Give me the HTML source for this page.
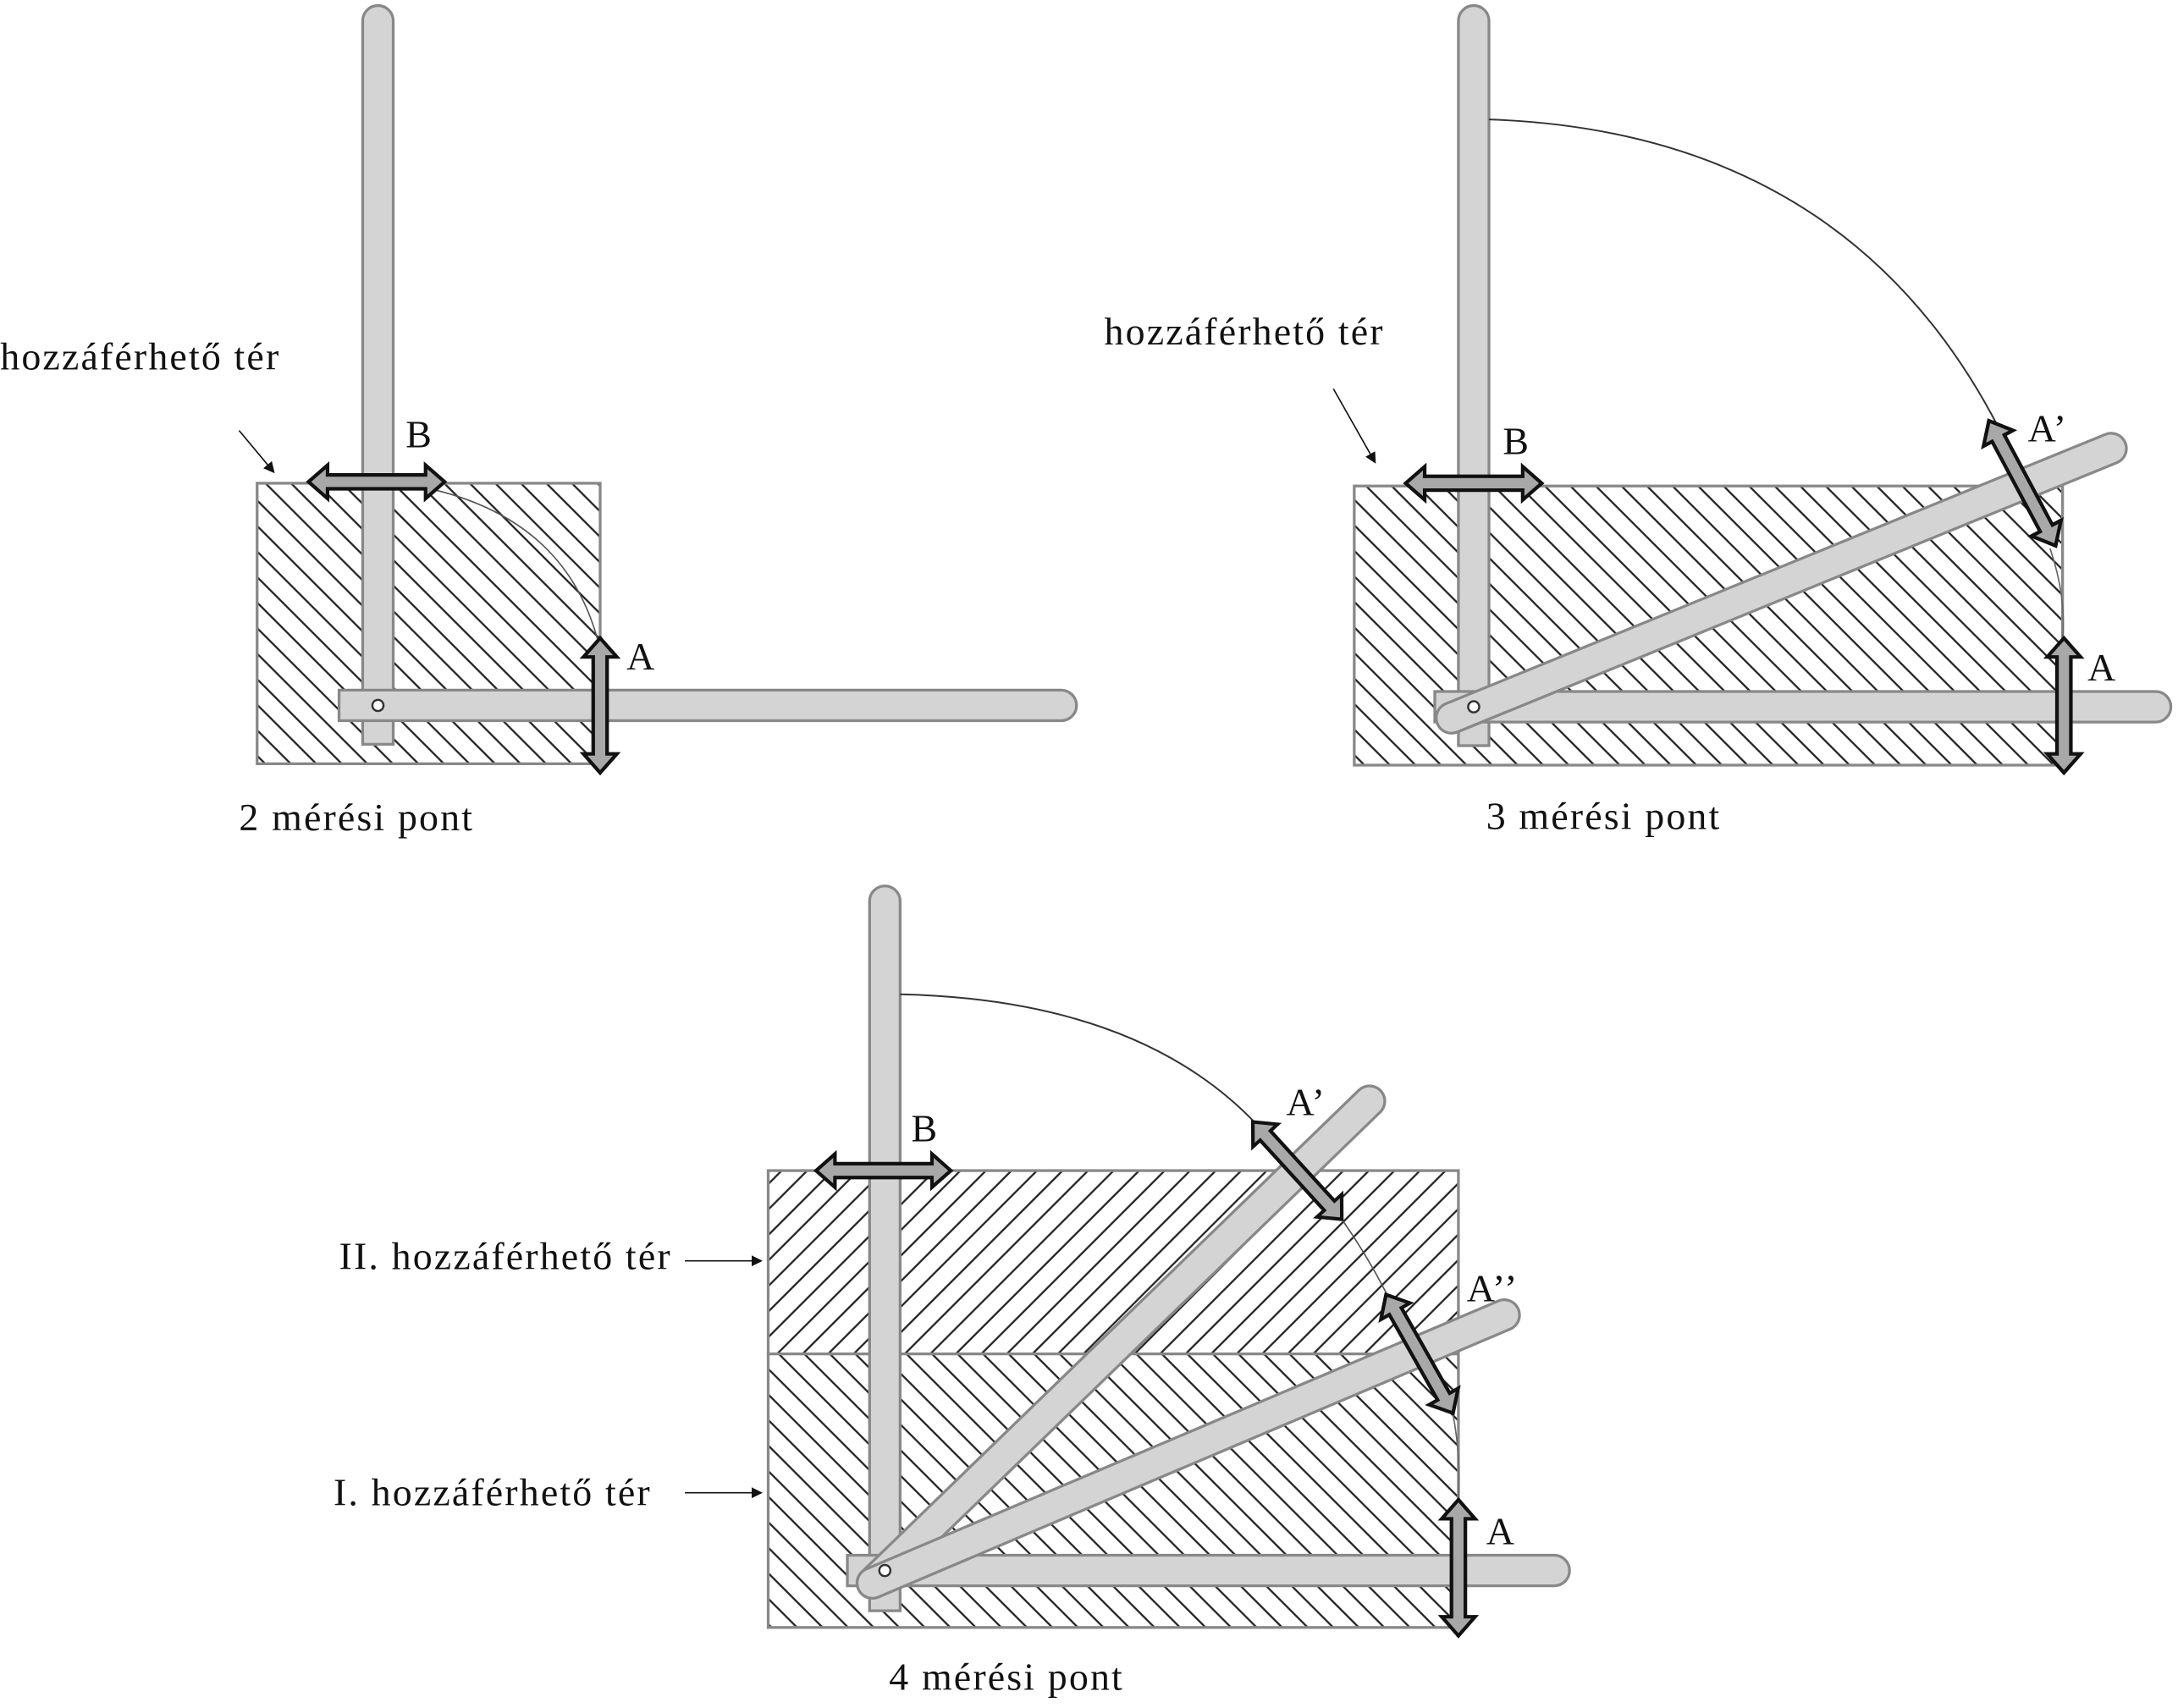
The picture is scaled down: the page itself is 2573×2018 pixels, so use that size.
<!DOCTYPE html>
<html><head><meta charset="utf-8"><style>
html,body{margin:0;padding:0;background:#fff;}
svg{display:block;}
text{font-family:"Liberation Serif",serif;font-size:28px;letter-spacing:1.3px;fill:#111;}
</style></head><body>
<svg width="2573" height="2018" viewBox="0 0 1568 1230" xmlns="http://www.w3.org/2000/svg">
<defs>
<pattern id="hd" patternUnits="userSpaceOnUse" width="13" height="13" patternTransform="rotate(-45)">
<rect width="13" height="13" fill="#fff"/><line x1="6" y1="0" x2="6" y2="13" stroke="#222" stroke-width="1.4"/></pattern>
<pattern id="hu" patternUnits="userSpaceOnUse" width="13" height="13" patternTransform="rotate(45)">
<rect width="13" height="13" fill="#fff"/><line x1="6" y1="0" x2="6" y2="13" stroke="#222" stroke-width="1.4"/></pattern>
<g id="arr"><polygon points="-50,0 -36,-12 -36,-5 36,-5 36,-12 50,0 36,12 36,5 -36,5 -36,12" fill="#a8a8a8" stroke="#111" stroke-width="2.6" stroke-linejoin="miter"/></g>
<marker id="ah" markerWidth="8" markerHeight="8" refX="7" refY="4" orient="auto" markerUnits="userSpaceOnUse"><path d="M0,0 L8,4 L0,8 z" fill="#111"/></marker>
</defs>

<!-- Diagram 1 -->
<rect x="185" y="348" width="247" height="202" fill="url(#hd)" stroke="#888" stroke-width="2"/>
<path d="M261,536 V15 A11,11 0 0 1 283,15 V536 Z" fill="#d4d4d4" stroke="#888" stroke-width="2"/>
<path d="M244,497 H764 A11,11 0 0 1 764,519 H244 Z" fill="#d4d4d4" stroke="#888" stroke-width="2"/>
<circle cx="272" cy="508" r="4" fill="#fff" stroke="#333" stroke-width="1.5"/>
<path d="M300,350 Q405,370 430,460" fill="none" stroke="#555" stroke-width="1"/>
<use href="#arr" transform="translate(271,347) scale(0.98,1)"/>
<use href="#arr" transform="translate(432,508) rotate(90) scale(0.97,1)"/>
<text x="292" y="322">B</text>
<text x="451" y="482">A</text>
<text x="0" y="266">hozzáférhető tér</text>
<line x1="172" y1="310" x2="197" y2="340" stroke="#111" stroke-width="1" marker-end="url(#ah)"/>
<text x="172" y="598">2 mérési pont</text>

<!-- Diagram 2 -->
<rect x="975" y="350" width="510" height="201" fill="url(#hd)" stroke="#888" stroke-width="2"/>
<path d="M1050,537 V15 A11,11 0 0 1 1072,15 V537 Z" fill="#d4d4d4" stroke="#888" stroke-width="2"/>
<path d="M1033,498 H1552 A11,11 0 0 1 1552,520 H1033 Z" fill="#d4d4d4" stroke="#888" stroke-width="2"/>
<line x1="1045" y1="517" x2="1520" y2="323" stroke="#888" stroke-width="24" stroke-linecap="round"/>
<line x1="1045" y1="517" x2="1520" y2="323" stroke="#d4d4d4" stroke-width="20" stroke-linecap="round"/>
<circle cx="1061" cy="509" r="4" fill="#fff" stroke="#333" stroke-width="1.5"/>
<path d="M1072,86 Q1330,95 1440,310" fill="none" stroke="#333" stroke-width="1.2"/>
<path d="M1476,395 Q1488,430 1485,462" fill="none" stroke="#666" stroke-width="1"/>
<use href="#arr" transform="translate(1061,348) scale(0.98,1)"/>
<use href="#arr" transform="translate(1456,348) rotate(61.9) scale(1.02,1)"/>
<use href="#arr" transform="translate(1486,508) rotate(90) scale(0.97,1)"/>
<text x="1082" y="327">B</text>
<text x="1460" y="318">A’</text>
<text x="1503" y="490">A</text>
<text x="795" y="248">hozzáférhető tér</text>
<line x1="960" y1="280" x2="990" y2="333" stroke="#111" stroke-width="1" marker-end="url(#ah)"/>
<text x="1070" y="597">3 mérési pont</text>

<!-- Diagram 3 -->
<rect x="553" y="843" width="497" height="132" fill="url(#hu)" stroke="#888" stroke-width="2"/>
<rect x="553" y="975" width="497" height="197" fill="url(#hd)" stroke="#888" stroke-width="2"/>
<path d="M626,1160 V649 A11,11 0 0 1 648,649 V1160 Z" fill="#d4d4d4" stroke="#888" stroke-width="2"/>
<path d="M610,1120 H1119 A11,11 0 0 1 1119,1142 H610 Z" fill="#d4d4d4" stroke="#888" stroke-width="2"/>
<line x1="628" y1="1140" x2="986" y2="793" stroke="#888" stroke-width="24" stroke-linecap="round"/>
<line x1="628" y1="1140" x2="986" y2="793" stroke="#d4d4d4" stroke-width="20" stroke-linecap="round"/>
<line x1="628" y1="1140" x2="1083" y2="947" stroke="#888" stroke-width="24" stroke-linecap="round"/>
<line x1="628" y1="1140" x2="1083" y2="947" stroke="#d4d4d4" stroke-width="20" stroke-linecap="round"/>
<circle cx="637" cy="1131" r="4" fill="#fff" stroke="#333" stroke-width="1.5"/>
<path d="M648,716 Q820,720 905,810" fill="none" stroke="#333" stroke-width="1.2"/>
<path d="M966,878 Q985,905 1000,935" fill="none" stroke="#555" stroke-width="1"/>
<path d="M1046,1018 Q1052,1050 1050,1080" fill="none" stroke="#666" stroke-width="1"/>
<use href="#arr" transform="translate(636,843) scale(0.97,1)"/>
<use href="#arr" transform="translate(934,843) rotate(47.6) scale(0.95,1)"/>
<use href="#arr" transform="translate(1022,975) rotate(60.5) scale(0.98,1)"/>
<use href="#arr" transform="translate(1050,1129) rotate(90) scale(0.98,1)"/>
<text x="656" y="822">B</text>
<text x="926" y="803">A’</text>
<text x="1056" y="937">A’’</text>
<text x="1070" y="1112">A</text>
<text x="244" y="914">II. hozzáférhető tér</text>
<line x1="493" y1="908" x2="548" y2="908" stroke="#111" stroke-width="1" marker-end="url(#ah)"/>
<text x="240" y="1084">I. hozzáférhető tér</text>
<line x1="493" y1="1075" x2="548" y2="1075" stroke="#111" stroke-width="1" marker-end="url(#ah)"/>
<text x="640" y="1217">4 mérési pont</text>
</svg>
</body></html>
